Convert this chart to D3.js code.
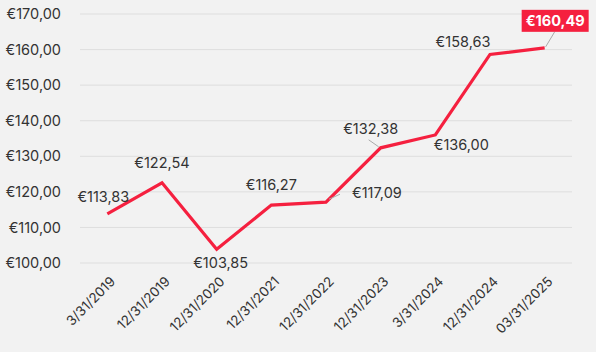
<!DOCTYPE html>
<html><head><meta charset="utf-8">
<script src="https://cdn.jsdelivr.net/npm/d3@7"></script>
<style>
html,body{margin:0;padding:0;background:#f2f2f2;}
svg{display:block;}
text{font-family:Inter, "Noto Sans", sans-serif;}
</style></head>
<body>
<svg id="c" width="596" height="352"></svg>
<script>
const categories = ["3/31/2019","12/31/2019","12/31/2020","12/31/2021","12/31/2022","12/31/2023","3/31/2024","12/31/2024","03/31/2025"];
const values = [113.83,122.54,103.85,116.27,117.09,132.38,136.00,158.63,160.49];
const yTicks = [100,110,120,130,140,150,160,170];

// label placement (dx, dy relative to point; optional leader)
const labelLayout = [
  {dx:-4, dy:-17, anchor:"middle"},
  {dx:0, dy:-20, anchor:"middle"},
  {dx:4, dy:14, anchor:"middle"},
  {dx:0, dy:-20, anchor:"middle"},
  {dx:26, dy:-9, anchor:"start", leader:[3,-3,14,-8]},
  {dx:-10, dy:-19, anchor:"middle", leader:[-2,-1,-12,-8]},
  {dx:26, dy:10, anchor:"middle"},
  {dx:-27, dy:-13, anchor:"middle"},
];

const svg = d3.select("#c");
const W=596,H=352;
svg.append("rect").attr("width",W).attr("height",H).attr("fill","#f2f2f2");
const m={l:80,r:24,t:14,b:89};
const x=d3.scalePoint().domain(categories).range([m.l,W-m.r]).padding(0.5);
const y=d3.scaleLinear().domain([100,170]).range([H-m.b,m.t]);
const fmt = v => "€" + v.toFixed(2).replace(".",",");

// grid
svg.append("g").selectAll("line").data(yTicks).join("line")
  .attr("x1",m.l).attr("x2",W-m.r)
  .attr("y1",d=>y(d)).attr("y2",d=>y(d))
  .attr("stroke","#dedede").attr("stroke-width",1);

// y axis
const ya=svg.append("g").attr("transform",`translate(${m.l},0)`)
  .call(d3.axisLeft(y).tickValues(yTicks).tickFormat(fmt).tickSize(0).tickPadding(19));
ya.select(".domain").remove();
ya.selectAll("text").attr("font-size",14.5).attr("fill","#333").style("font-family","Inter, sans-serif");

// x axis
const xa=svg.append("g").attr("transform",`translate(0,${H-m.b})`)
  .call(d3.axisBottom(x).tickSize(0).tickPadding(0));
xa.select(".domain").remove();
xa.selectAll("text").attr("font-size",13.5).attr("fill","#333")
  .attr("text-anchor","end")
  .attr("transform","translate(5,16) rotate(-45)")
  .attr("dy","0.35em")
  .style("font-family","Inter, sans-serif");

// line
const line=d3.line().x((d,i)=>x(categories[i])).y(d=>y(d));
svg.append("path").datum(values).attr("d",line)
  .attr("fill","none").attr("stroke","#f5203f").attr("stroke-width",3.2)
  .attr("stroke-linejoin","miter");

// labels
values.slice(0,8).forEach((v,i)=>{
  const L=labelLayout[i];
  const px=x(categories[i]), py=y(v);
  if(L.leader){
    svg.append("line").attr("x1",px+L.leader[0]).attr("y1",py+L.leader[1])
      .attr("x2",px+L.leader[2]).attr("y2",py+L.leader[3])
      .attr("stroke","#aaa").attr("stroke-width",1);
  }
  svg.append("text").attr("x",px+L.dx).attr("y",py+L.dy)
    .attr("text-anchor",L.anchor).attr("dy","0.35em")
    .attr("font-size",14.5).attr("fill","#333").text(fmt(v));
});

// last highlighted label
{
  const i=values.length-1, px=x(categories[i]), py=y(values[i]);
  const bx=px+10, by=py-16;
  svg.append("line").attr("x1",px+1).attr("y1",py-1).attr("x2",bx).attr("y2",by)
    .attr("stroke","#aaa").attr("stroke-width",1);
  svg.append("rect")
    .attr("x",bx-33).attr("y",by-22).attr("width",67).attr("height",22)
    .attr("fill","#f5203f");
  svg.append("text").attr("x",bx+0.5).attr("y",by-11).attr("text-anchor","middle")
    .attr("dy","0.36em").attr("font-size",14.5).attr("font-weight","bold")
    .attr("fill","#fff").text(fmt(values[i]));
}
</script>
</body></html>
